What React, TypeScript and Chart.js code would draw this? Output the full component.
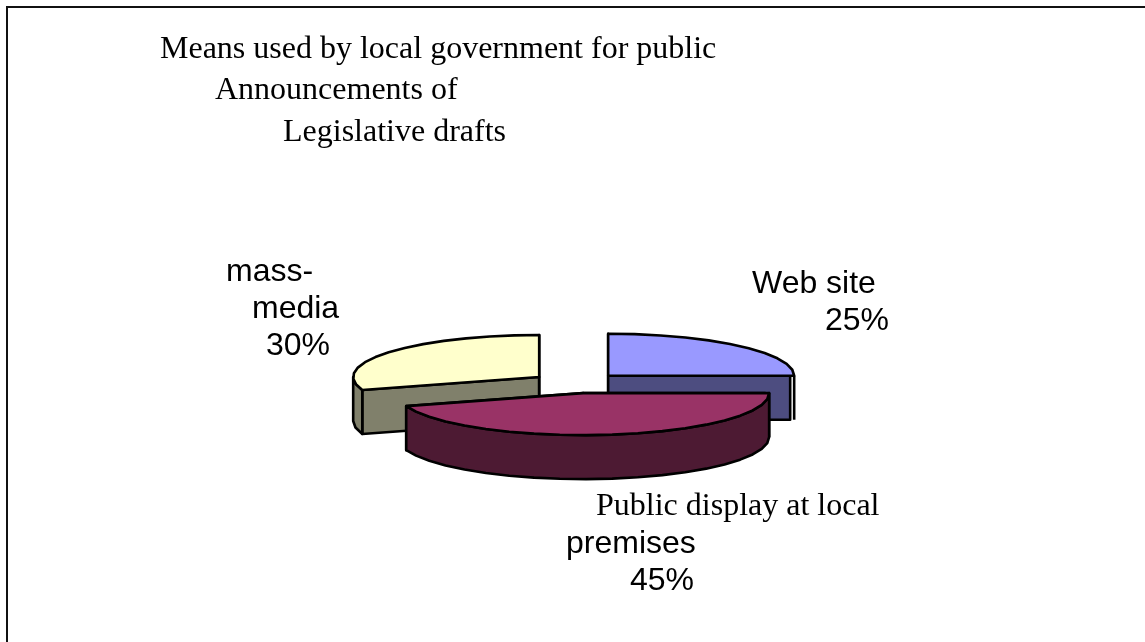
import React, { useEffect, useRef } from "react";
import { Chart, registerables } from "chart.js";

Chart.register(...registerables);

// Survey shares, in drawing order clockwise from twelve o'clock.
const categories = ["Web site", "Public display at local premises", "mass-media"];
const shares = [25, 45, 30];
const topColors = ["#9999ff", "#993366", "#ffffcc"];
const wallColors = ["#4d4d80", "#4d1a33", "#80806b"];

const titleLines = [
  "Means used by local government for public",
  "Announcements of",
  "Legislative drafts",
];

const SERIF = '"Liberation Serif", serif';
const SANS = '"Liberation Sans", sans-serif';
const TILT = 42 / 186; // vertical squash of the pie disc
const DEPTH = 44; // height of the extruded wall
const EXPLODE = 45.5; // distance each slice is pulled out of the centre
const FACET = (8 * Math.PI) / 180; // outline segment length
const EDGE_GAP = 4; // sliver between a horizontal cut face and the rim line

type Rim = { x: number; y: number };

const pie3d = {
  id: "pie3d",
  beforeDatasetDraw(chart: any) {
    const ctx: CanvasRenderingContext2D = chart.ctx;
    const arcs = chart.getDatasetMeta(0).data;
    // Back slices first so the large front slice overlaps them.
    const order = [0, 2, 1];
    ctx.save();
    ctx.lineJoin = "round";
    ctx.strokeStyle = "#000";
    ctx.lineWidth = 2.6;

    for (const i of order) {
      const arc = arcs[i];
      const a0: number = arc.startAngle;
      const a1: number = arc.endAngle;
      const mid = (a0 + a1) / 2;
      const R: number = arc.outerRadius;
      const cx = arc.x + EXPLODE * Math.cos(mid);
      const cy = arc.y + EXPLODE * Math.sin(mid) * TILT;
      const rim = (a: number): Rim => ({
        x: cx + R * Math.cos(a),
        y: cy + R * TILT * Math.sin(a),
      });
      const samples = (from: number, to: number): Rim[] => {
        const n = Math.max(1, Math.round((to - from) / FACET));
        const pts: Rim[] = [];
        for (let k = 0; k <= n; k++) pts.push(rim(from + ((to - from) * k) / n));
        return pts;
      };
      const wall = wallColors[i];

      // Straight cut faces
      for (const a of [a0, a1]) {
        const p = rim(a);
        const horizontal = Math.cos(a) > 0.99;
        const faceX = horizontal ? p.x - EDGE_GAP : p.x;
        ctx.beginPath();
        ctx.moveTo(cx, cy);
        ctx.lineTo(faceX, p.y);
        ctx.lineTo(faceX, p.y + DEPTH);
        ctx.lineTo(cx, cy + DEPTH);
        ctx.closePath();
        ctx.fillStyle = wall;
        ctx.fill();
        ctx.stroke();
        if (horizontal) {
          ctx.beginPath();
          ctx.moveTo(p.x, p.y);
          ctx.lineTo(p.x, p.y + DEPTH);
          ctx.stroke();
        }
      }

      // Curved outer wall, only where it faces the viewer
      const from = Math.max(a0, 0);
      const to = Math.min(a1, Math.PI);
      if (to > from) {
        const pts = samples(from, to);
        ctx.beginPath();
        pts.forEach((p, k) => (k ? ctx.lineTo(p.x, p.y) : ctx.moveTo(p.x, p.y)));
        for (let k = pts.length - 1; k >= 0; k--) ctx.lineTo(pts[k].x, pts[k].y + DEPTH);
        ctx.closePath();
        ctx.fillStyle = wall;
        ctx.fill();
        ctx.stroke();
      }

      // Top face: the library's own arc element under a squashing transform
      ctx.save();
      ctx.translate(cx, cy);
      ctx.scale(1, TILT);
      ctx.translate(-arc.x, -arc.y);
      arc.draw(ctx);
      ctx.restore();

      const edge = samples(a0, a1);
      ctx.beginPath();
      ctx.moveTo(cx, cy);
      edge.forEach((p) => ctx.lineTo(p.x, p.y));
      ctx.closePath();
      ctx.stroke();
    }
    ctx.restore();
    return false;
  },
  afterDraw(chart: any) {
    const ctx: CanvasRenderingContext2D = chart.ctx;
    ctx.save();

    // Frame: only the top and left rules are visible
    ctx.fillStyle = "#111";
    ctx.fillRect(6, 6, 1139, 2);
    ctx.fillRect(6, 6, 2, 636);

    ctx.fillStyle = "#000";
    ctx.textAlign = "left";
    ctx.textBaseline = "alphabetic";

    ctx.font = `32px ${SERIF}`;
    ctx.fillText(titleLines[0], 160, 58);
    ctx.fillText(titleLines[1], 215, 99);
    ctx.fillText(titleLines[2], 283, 141);

    ctx.font = `32px ${SANS}`;
    ctx.fillText("Web site", 752, 293);
    ctx.fillText(`${shares[0]}%`, 825, 330);

    ctx.fillText("mass-", 226, 281);
    ctx.fillText("media", 252, 318);
    ctx.fillText(`${shares[2]}%`, 266, 355);

    ctx.fillText("premises", 566, 553);
    ctx.fillText(`${shares[1]}%`, 630, 590);
    ctx.font = `32px ${SERIF}`;
    ctx.fillText("Public display at local", 596, 515);

    ctx.restore();
  },
};

export default function App() {
  const ref = useRef<HTMLCanvasElement>(null);

  useEffect(() => {
    if (!ref.current) return;
    const chart = new Chart(ref.current, {
      type: "pie",
      data: {
        labels: categories,
        datasets: [
          {
            data: shares,
            backgroundColor: topColors,
            borderWidth: 0,
            radius: 186,
          },
        ],
      },
      options: {
        responsive: false,
        animation: false,
        layout: { padding: { left: 7, right: 0, top: 124, bottom: 0 } },
        plugins: {
          legend: { display: false },
          title: { display: false },
          tooltip: { enabled: false },
        },
      },
      plugins: [pie3d],
    } as any);
    return () => chart.destroy();
  }, []);

  return (
    <div style={{ position: "absolute", left: 0, top: 0, width: 1145, height: 642, background: "#fff" }}>
      <canvas ref={ref} width={1145} height={642} style={{ display: "block" }} />
    </div>
  );
}
